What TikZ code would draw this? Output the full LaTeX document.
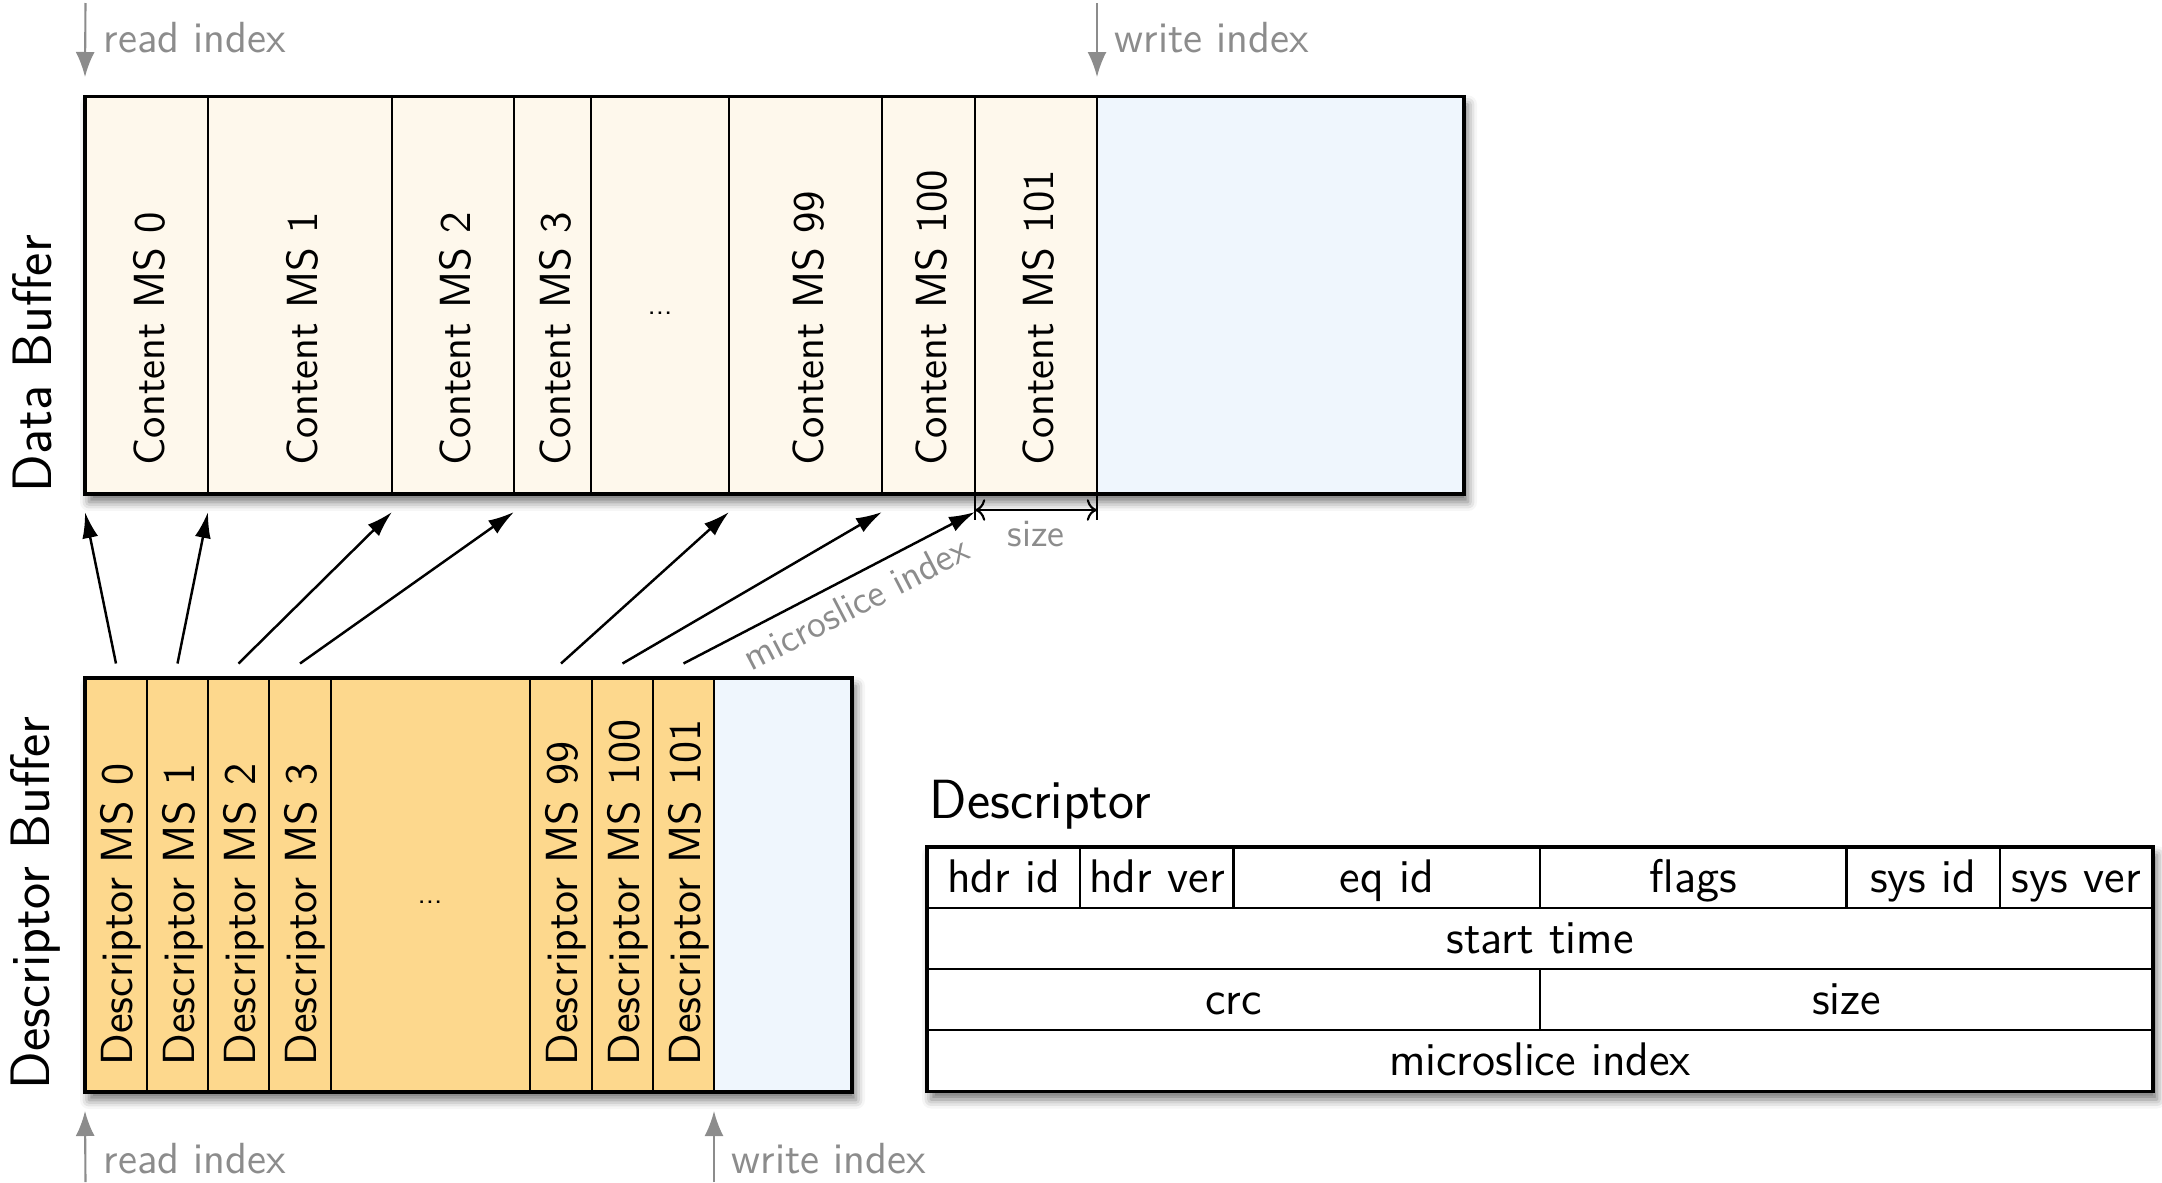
\documentclass[tikz,border=0pt]{standalone}
\usepackage{fontspec}
\usetikzlibrary{arrows.meta,calc,shadows.blur}

\definecolor{contentfill}{RGB}{254,248,236}
\definecolor{descfill}{RGB}{253,216,141}
\definecolor{freefill}{RGB}{239,246,253}
\definecolor{idxgray}{RGB}{140,140,140}
\newcommand\myfs[1]{\fontsize{#1}{#1}\selectfont}

\begin{document}
\begin{tikzpicture}[
  font=\sffamily,
  cellbox/.style={draw=black, line width=0.6pt, inner sep=0pt, outer sep=0pt, anchor=south west},
  outline/.style={draw=black, line width=1pt},
  shadowbox/.style={fill=white, inner sep=0pt, outer sep=0pt, anchor=south west,
    blur shadow={shadow xshift=0.4mm, shadow yshift=-0.8mm, shadow blur radius=0.9mm, shadow opacity=55}},
  celltext/.style={rotate=90, anchor=west, inner sep=0pt, text height=8.8pt, text depth=2.6pt,
    font=\sffamily\myfs{12.4}},
  desctext/.style={celltext, font=\sffamily\myfs{12.8}},
  sidelabel/.style={rotate=90, anchor=base west, inner sep=0pt, font=\sffamily\myfs{15.8}},
  dotstext/.style={inner sep=0pt, font=\sffamily\myfs{8}},
  ptr/.style={-{Latex[length=2.6mm,width=1.6mm]}, line width=0.7pt},
  idx/.style={draw=idxgray, line width=0.6pt, -{Latex[length=2.5mm,width=1.9mm]}},
  idxtext/.style={text=idxgray, font=\sffamily\myfs{12.4}, anchor=base west, inner sep=0pt},
  smalllabel/.style={text=idxgray, font=\sffamily\myfs{11}, inner sep=0pt},
  field/.style={draw=black, line width=0.6pt, inner sep=0pt, outer sep=0pt, anchor=north west,
    minimum height=0.6113cm, text height=10.4pt, text depth=2pt, font=\sffamily\myfs{13.4}},
]
\useasboundingbox (0,0) rectangle (21.62,11.82);

% ---------------- data buffer ----------------
\node[shadowbox, minimum width=13.79cm, minimum height=3.975cm] (databuf) at (0.85,6.88) {};
\foreach \nm/\a/\b/\txt in {c0/0.85/2.08/Content MS 0, c1/2.08/3.92/Content MS 1,
    c2/3.92/5.14/Content MS 2, c3/5.14/5.91/Content MS 3, c99/7.29/8.82/Content MS 99,
    c100/8.82/9.75/Content MS 100, c101/9.75/10.97/Content MS 101} {
  \pgfmathsetmacro\cw{\b-\a}
  \node[cellbox, fill=contentfill, minimum width=\cw cm, minimum height=3.975cm] (\nm) at (\a,6.88) {};
  \node[celltext] at ($(\nm.south)+(0.07,0.28)$) {\txt};
}
\node[cellbox, fill=contentfill, minimum width=1.38cm, minimum height=3.975cm] (cdots) at (5.91,6.88) {};
\node[dotstext] at (6.60,8.69) {...};
\node[cellbox, fill=freefill, minimum width=3.67cm, minimum height=3.975cm] (cfree) at (10.97,6.88) {};
\draw[outline] (databuf.south west) rectangle (databuf.north east);
\node[sidelabel] at ($(databuf.south west)+(-0.34,0.01)$) {Data Buffer};

% ---------------- descriptor buffer ----------------
\node[shadowbox, minimum width=7.67cm, minimum height=4.14cm] (descbuf) at (0.85,0.90) {};
\foreach \nm/\a/\b/\txt in {d0/0.85/1.47/Descriptor MS 0, d1/1.47/2.08/Descriptor MS 1,
    d2/2.08/2.69/Descriptor MS 2, d3/2.69/3.31/Descriptor MS 3, d99/5.30/5.92/Descriptor MS 99,
    d100/5.92/6.53/Descriptor MS 100, d101/6.53/7.14/Descriptor MS 101} {
  \pgfmathsetmacro\cw{\b-\a}
  \node[cellbox, fill=descfill, minimum width=\cw cm, minimum height=4.14cm] (\nm) at (\a,0.90) {};
  \node[desctext] at ($(\nm.south)+(0.06,0.26)$) {\txt};
}
\node[cellbox, fill=descfill, minimum width=1.99cm, minimum height=4.14cm] (ddots) at (3.31,0.90) {};
\node[dotstext] at (4.30,2.80) {...};
\node[cellbox, fill=freefill, minimum width=1.38cm, minimum height=4.14cm] (dfree) at (7.14,0.90) {};
\draw[outline] (descbuf.south west) rectangle (descbuf.north east);
\node[sidelabel] at ($(descbuf.south west)+(-0.35,0.02)$) {Descriptor Buffer};

% ---------------- descriptor -> content pointers ----------------
\foreach \s/\t in {d0/c0, d1/c1, d2/c2, d3/c3, d99/c99, d100/c100}
  \draw[ptr] ($(\s.north)+(0,0.145)$) -- ($(\t.south west)+(0,-0.18)$);
\draw[ptr] ($(d101.north)+(0,0.145)$) --
  node[sloped, below=0.11cm, pos=0.55, smalllabel] {microslice index}
  ($(c101.south west)+(0,-0.18)$);

% size of one microslice
\draw[line width=0.6pt] (c101.south west) -- ++(0,-0.26);
\draw[line width=0.6pt] (c101.south east) -- ++(0,-0.26);
\draw[{To}-{To}, line width=0.6pt] ($(c101.south west)+(0,-0.16)$) --
  node[below=0.1cm, smalllabel] {size} ($(c101.south east)+(0,-0.16)$);

% ---------------- read / write indices ----------------
\coordinate (rdtop) at (0.855,11.79);
\coordinate (wrtop) at (10.97,11.79);
\draw[idx] (rdtop) -- ($(c0.north west)+(0,0.195)$);
\draw[idx] (wrtop) -- ($(cfree.north west)+(0,0.195)$);
\node[idxtext] at (1.03,11.30) {read index};
\node[idxtext] at (11.14,11.30) {write index};

\coordinate (rdbot) at (0.855,0);
\coordinate (wrbot) at (7.14,0);
\draw[idx] (rdbot) -- ($(d0.south west)+(0,-0.19)$);
\draw[idx] (wrbot) -- ($(dfree.south west)+(0,-0.19)$);
\node[idxtext] at (1.03,0.09) {read index};
\node[idxtext] at (7.31,0.09) {write index};

% ---------------- descriptor layout ----------------
\node[anchor=base west, inner sep=0pt, font=\sffamily\myfs{15.7}] (desctitle) at (9.29,3.64) {Descriptor};
\node[shadowbox, minimum width=12.26cm, minimum height=2.445cm] (desctable) at (9.27,0.905) {};
\foreach \nm/\c/\n/\r/\txt in {hdrid/0/1/0/hdr id, hdrver/1/1/0/hdr ver, eqid/2/2/0/eq id,
    flags/4/2/0/flags, sysid/6/1/0/sys id, sysver/7/1/0/sys ver,
    starttime/0/8/1/start time, crc/0/4/2/crc, sizefield/4/4/2/size, msindex/0/8/3/microslice index} {
  \pgfmathsetmacro\cw{\n*1.5325}
  \pgfmathsetmacro\cx{9.27+\c*1.5325}
  \pgfmathsetmacro\cy{3.35-\r*0.6113}
  \node[field, minimum width=\cw cm] (\nm) at (\cx,\cy) {\txt};
}
\draw[outline] (desctable.south west) rectangle (desctable.north east);
\end{tikzpicture}
\end{document}
